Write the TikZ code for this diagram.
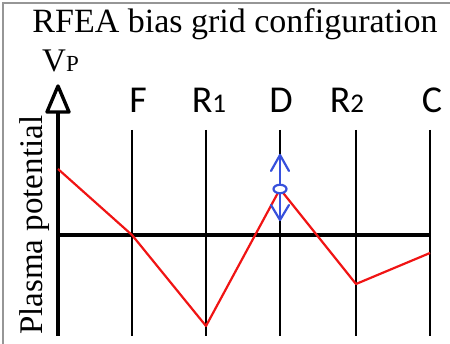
\documentclass[tikz,border=0pt]{standalone}
\usepackage{fontspec}
\setmainfont{Liberation Serif}
\newfontfamily\labfont{Carlito}
\usetikzlibrary{arrows.meta,shapes.geometric}
\definecolor{framegray}{RGB}{150,150,150}
\definecolor{arrowblue}{RGB}{55,80,220}
\definecolor{curvered}{RGB}{240,20,20}
\begin{document}
\begin{tikzpicture}[x=1pt,y=-1pt,
  gridline/.style={line width=2.6pt,black},
  axisline/.style={line width=3.4pt,black},
  potline/.style={line width=2.2pt,curvered,line join=round},
  bluestroke/.style={line width=2.2pt,arrowblue,line join=round,line cap=round},
  gridlabel/.style={font=\labfont\fontsize{38}{38}\selectfont,anchor=base,inner sep=0pt}]
\useasboundingbox (0,0) rectangle (450,344);
% frame
\draw[framegray,line width=1.2pt] (3,344) -- (3,3) -- (450,3);
% title
\node[anchor=base,inner sep=0pt,font=\fontsize{34}{34}\selectfont] (title) at (235,33) {RFEA bias grid configuration};
% VP
\node[anchor=base west,inner sep=0pt] (vp) at (42,72) {\fontsize{33}{33}\selectfont V\fontsize{23}{23}\selectfont P};
% y label
\node[anchor=base west,rotate=90,inner sep=0pt,font=\fontsize{33}{33}\selectfont] (ylab) at (42,335) {Plasma potential};
% coordinates
\coordinate (ybot) at (58,336);
\coordinate (ytop) at (58,112);
\coordinate (apex) at (58,86);
\coordinate (bl) at (47,112);
\coordinate (br) at (69,112);
\foreach \n/\x in {F/132,R1/206,D/280,R2/356,C/430}{
  \coordinate (\n top) at (\x,130);
  \coordinate (\n bot) at (\x,336);
}
\coordinate (h0) at (58,235);
\coordinate (h1) at (431,235);
% grid lines
\foreach \n in {F,R1,D,R2,C} \draw[gridline] (\n top) -- (\n bot);
\draw[axisline] (h0) -- (h1);
% y axis
\draw[axisline] (ybot) -- (ytop);
\draw[line width=3.4pt,line join=round] (apex) -- (bl) -- (br) -- cycle;
% labels
\node[gridlabel] (lF) at (138,113) {F};
\node[gridlabel] (lR1) at (209,113) {R\fontsize{27}{27}\selectfont 1};
\node[gridlabel] (lD) at (281,113) {D};
\node[gridlabel] (lR2) at (347,113) {R\fontsize{27}{27}\selectfont 2};
\node[gridlabel] (lC) at (432,113) {C};
% potential curve
\coordinate (p0) at (58,169);
\coordinate (p1) at (132,235);
\coordinate (p2) at (206,326);
\coordinate (p3) at (280,189);
\coordinate (p4) at (356,284);
\coordinate (p5) at (430,253);
\draw[potline] (p0) -- (p1) -- (p2) -- (p3) -- (p4) -- (p5);
% bias arrows and circle
\coordinate (uptip) at (280,155);
\coordinate (upl) at (271,171);
\coordinate (upr) at (289,171);
\coordinate (dntip) at (280,220);
\coordinate (dnl) at (271,205);
\coordinate (dnr) at (289,205);
\draw[bluestroke] (p3) -- (uptip);
\draw[bluestroke] (upl) -- (uptip) -- (upr);
\draw[bluestroke] (p3) -- (dntip);
\draw[bluestroke] (dnl) -- (dntip) -- (dnr);
\node[draw=arrowblue,line width=2.2pt,fill=white,ellipse,minimum width=13pt,minimum height=8.5pt,inner sep=0pt] (dot) at (p3) {};
\end{tikzpicture}
\end{document}
